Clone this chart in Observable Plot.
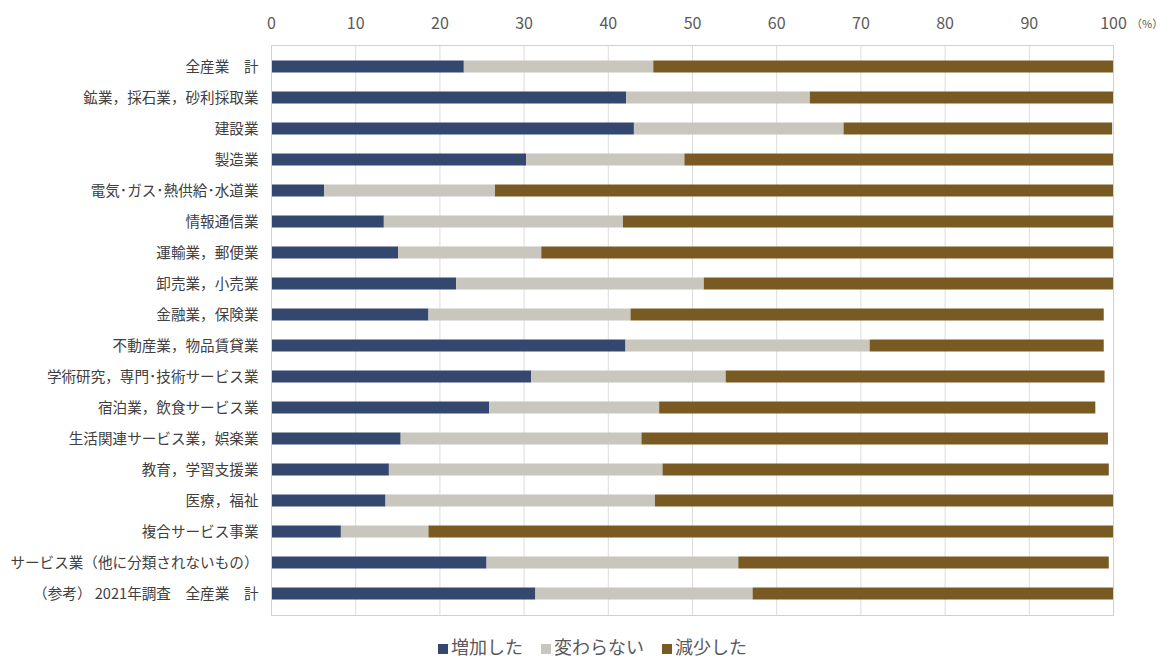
<!DOCTYPE html>
<html><head><meta charset="utf-8">
<script src="https://cdn.jsdelivr.net/npm/d3@7"></script>
<script src="https://cdn.jsdelivr.net/npm/@observablehq/plot@0.6"></script>
<style>
body{margin:0;background:#fff;font-family:"Noto Sans CJK JP","Noto Sans",sans-serif;}
#wrap{position:relative;width:1171px;height:660px;overflow:hidden;}
#legend{position:absolute;left:0;width:1171px;top:636px;height:20px;line-height:20px;text-align:center;font-size:18px;color:#595959;padding-left:14px;box-sizing:border-box;}
#legend span.item{margin:0 9px;white-space:nowrap;}
#legend span.sw{display:inline-block;width:10px;height:10px;margin-right:3px;vertical-align:0px;}
#pct{position:absolute;left:1131px;top:15px;font-size:11px;color:#595959;}
</style></head>
<body><div id="wrap"><div id="chart"></div><div id="pct">（%）</div><div id="legend"></div></div>
<script>
const categories = ["全産業　計","鉱業，採石業，砂利採取業","建設業","製造業","電気･ガス･熱供給･水道業","情報通信業","運輸業，郵便業","卸売業，小売業","金融業，保険業","不動産業，物品賃貸業","学術研究，専門･技術サービス業","宿泊業，飲食サービス業","生活関連サービス業，娯楽業","教育，学習支援業","医療，福祉","複合サービス事業","サービス業（他に分類されないもの）","（参考） 2021年調査　全産業　計"];
const increased = [22.9,42.2,43.1,30.3,6.3,13.4,15.1,22.0,18.7,42.1,30.9,25.9,15.4,14.0,13.6,8.3,25.6,31.4];
const unchanged = [22.5,21.8,24.9,18.8,20.3,28.4,17.0,29.4,24.0,29.0,23.1,20.2,28.6,32.5,32.0,10.4,29.9,25.8];
const decreased = [54.6,36.0,31.9,50.9,73.4,58.2,67.9,48.6,56.2,27.8,45.0,51.8,55.4,53.0,54.4,81.3,44.0,42.8];
const seriesNames = ["増加した","変わらない","減少した"];
const seriesColors = ["#34476e","#c9c6bd","#7a5a23"];
const xTicks = [0,10,20,30,40,50,60,70,80,90,100];

const seriesValues = [increased, unchanged, decreased];
const rows = [];
categories.forEach((c,i)=>seriesNames.forEach((s,j)=>rows.push({category:c, series:s, value:seriesValues[j][i]})));

const chart = Plot.plot({
  width:1171, height:629,
  marginLeft:271, marginRight:58, marginTop:45, marginBottom:14,
  style:{fontFamily:'"Noto Sans CJK JP","Noto Sans",sans-serif', background:"#fff"},
  x:{domain:[0,100], axis:null},
  y:{domain:categories, axis:null, paddingInner:0, paddingOuter:0},
  color:{domain:seriesNames, range:seriesColors},
  marks:[
    Plot.ruleX(xTicks,{stroke:"#dcdcdc", strokeWidth:1}),
    Plot.barX(rows, Plot.stackX({x:"value", y:"category", fill:"series", order:seriesNames, insetTop:9.5, insetBottom:9.5})),
    Plot.frame({stroke:"#d0d0d0", strokeWidth:1}),
    Plot.axisX(xTicks,{anchor:"top", tickSize:0, tickPadding:17, fontSize:16, fill:"#595959", label:null}),
    Plot.axisY({tickSize:0, tickPadding:13, fontSize:14.6, fill:"#404040", label:null})
  ]
});
document.getElementById("chart").appendChild(chart);

const lg = document.getElementById("legend");
seriesNames.forEach((s,i)=>{
  const it = document.createElement("span"); it.className="item";
  const sw = document.createElement("span"); sw.className="sw"; sw.style.background=seriesColors[i];
  it.appendChild(sw); it.appendChild(document.createTextNode(s));
  lg.appendChild(it);
});
</script></body></html>
